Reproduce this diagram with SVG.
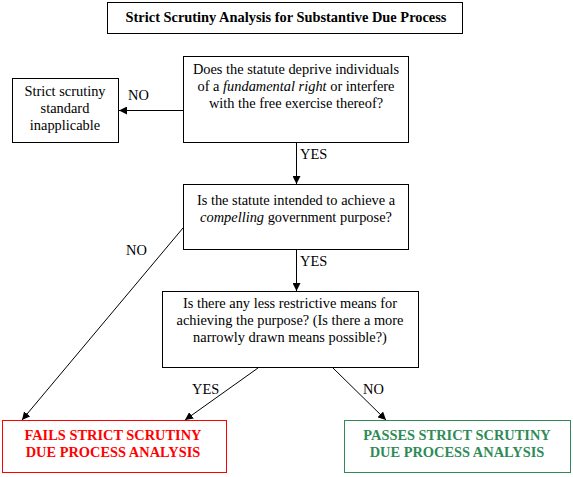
<svg xmlns="http://www.w3.org/2000/svg" width="573" height="477" viewBox="0 0 573 477">
<style>
.box{fill:#fff;stroke:#000;stroke-width:1}
text{font-family:'Liberation Serif','Times New Roman',serif;font-size:14.4px}
.t{fill:#000;text-anchor:middle}
.lbl{fill:#000}
.b{font-weight:bold}
.c{stroke:#000;stroke-width:1;fill:none;marker-end:url(#ah)}
</style>
<defs>
<marker id="ah" viewBox="0 0 10 10" refX="10" refY="5" markerWidth="8" markerHeight="8" markerUnits="userSpaceOnUse" orient="auto">
<path d="M0,0 L10,5 L0,10 z" fill="#000"/>
</marker>
</defs>
<rect width="573" height="477" fill="#fff"/>
<g id="title">
<rect class="box" x="107.5" y="2.5" width="355" height="31"/>
<text class="t b" x="286" y="22">Strict Scrutiny Analysis for Substantive Due Process</text>
</g>
<g id="q1">
<rect class="box" x="183.5" y="56.5" width="225" height="86"/>
<text class="t" x="296" y="74">Does the statute deprive individuals</text>
<text class="t" x="296" y="91">of a <tspan font-style="italic">fundamental right</tspan> or interfere</text>
<text class="t" x="296" y="108">with the free exercise thereof?</text>
</g>
<g id="inapplicable">
<rect class="box" x="12.5" y="78.5" width="106" height="64"/>
<text class="t" x="65" y="96">Strict scrutiny</text>
<text class="t" x="65" y="113">standard</text>
<text class="t" x="65" y="130">inapplicable</text>
</g>
<g id="q2">
<rect class="box" x="183.5" y="184.5" width="225" height="65"/>
<text class="t" x="296" y="205">Is the statute intended to achieve a</text>
<text class="t" x="296" y="222"><tspan font-style="italic">compelling</tspan> government purpose?</text>
</g>
<g id="q3">
<rect class="box" x="162.5" y="291.5" width="256" height="76"/>
<text class="t" x="290" y="308">Is there any less restrictive means for</text>
<text class="t" x="290" y="325">achieving the purpose? (Is there a more</text>
<text class="t" x="290" y="342">narrowly drawn means possible?)</text>
</g>
<g id="fails">
<rect x="2.5" y="420.5" width="224" height="52" fill="#fff" stroke="#ff0000"/>
<text class="t b" x="113" y="440" style="fill:#ff0000">FAILS STRICT SCRUTINY</text>
<text class="t b" x="113" y="457" style="fill:#ff0000">DUE PROCESS ANALYSIS</text>
</g>
<g id="passes">
<rect x="344.5" y="420.5" width="226" height="52" fill="#fff" stroke="#2e8b57"/>
<text class="t b" x="457" y="440" style="fill:#2e8b57">PASSES STRICT SCRUTINY</text>
<text class="t b" x="457" y="457" style="fill:#2e8b57">DUE PROCESS ANALYSIS</text>
</g>
<g id="connectors">
<line class="c" x1="183" y1="110.5" x2="119" y2="110.5"/>
<line class="c" x1="296.5" y1="143" x2="296.5" y2="184"/>
<line class="c" x1="296.5" y1="250" x2="296.5" y2="291"/>
<line class="c" x1="183" y1="228" x2="22" y2="420"/>
<line class="c" x1="258" y1="368" x2="185" y2="420"/>
<line class="c" x1="333" y1="368" x2="386" y2="420"/>
<text class="lbl" x="128" y="100">NO</text>
<text class="lbl" x="300" y="159">YES</text>
<text class="lbl" x="300" y="266">YES</text>
<text class="lbl" x="126" y="255">NO</text>
<text class="lbl" x="192" y="394">YES</text>
<text class="lbl" x="363" y="394">NO</text>
</g>
</svg>
